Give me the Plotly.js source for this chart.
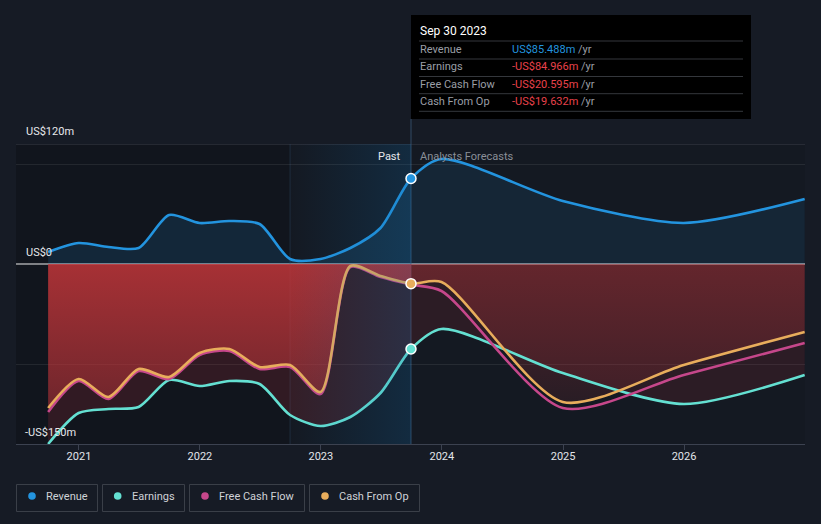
<!DOCTYPE html>
<html><head><meta charset="utf-8">
<script src="https://cdn.plot.ly/plotly-3.0.1.min.js"></script>
<style>html,body{margin:0;padding:0;background:#161b25;}#chart{width:821px;height:524px;}</style>
</head><body><div id="chart"></div>
<script>
// ---------- data ----------
const pastDates = ['2020-09-30','2020-12-31','2021-03-31','2021-06-30','2021-09-30','2021-12-31','2022-03-31','2022-06-30','2022-09-30','2022-12-31','2023-03-31','2023-06-30','2023-09-30'];
const revenuePast  = [12, 21, 17, 16, 49, 41, 43, 40, 5, 5, 16, 36, 85.488];
const earningsPast = [-180, -149, -145, -143, -116, -122, -117, -120, -151, -162, -153, -129, -84.966];
const fcfPast      = [-148, -117, -135, -107, -115, -91, -87, -105, -103, -130, -3, -13, -20.595];
const cfoPast      = [-144, -115, -133, -105, -113, -89, -85, -103, -101, -128, -2, -12, -19.632];

const fcDates = ['2023-09-30','2023-12-31','2024-12-31','2025-12-31','2026-12-31'];
const revenueFc  = [85.488, 105, 63, 41, 65];
const earningsFc = [-84.966, -65, -109, -140, -111];
const fcfFc      = [-20.595, -27, -144, -111, -79];
const cfoFc      = [-19.632, -18, -138, -101, -68];

const yearTicks  = ['2021-01-01','2022-01-01','2023-01-01','2024-01-01','2025-01-01','2026-01-01'];
const yearLabels = ['2021','2022','2023','2024','2025','2026'];
const xRange = ['2020-06-25','2027-01-01'];
const yRange = [-180, 120];
const highlightStart = '2022-09-30';
const highlightEnd = '2023-09-30';

const seriesNames = ['Revenue','Earnings','Free Cash Flow','Cash From Op'];
const seriesColors = ['#2394df','#64e0d2','#c6478b','#e8ad5c'];
const tipDate = 'Sep 30 2023';
const tipValues = ['US$85.488m','-US$84.966m','-US$20.595m','-US$19.632m'];
const axisLabels = ['US$120m','US$0','-US$150m'];

// ---------- helpers ----------
const FONT = 'Roboto, "Open Sans", sans-serif';
const PL = 16, PR = 805, PT = 144, PB = 444;
const px = v => (v - PL) / (PR - PL);
const py = v => (PB - v) / (PB - PT);
const all = (a, b) => a.concat(b.slice(1));
const allDates = all(pastDates, fcDates);

const SM = 0.75;
function fillTrace(x, y, color, grad) {
  const t = {x, y, type:'scatter', mode:'lines', line:{width:0, shape:'spline', smoothing:SM},
    fill:'tozeroy', hoverinfo:'skip', showlegend:false};
  if (grad) t.fillgradient = {type:'vertical', start:yRange[0], stop:0, colorscale:grad};
  else t.fillcolor = color;
  return t;
}
function lineTrace(x, y, color) {
  return {x, y, type:'scatter', mode:'lines', line:{width:2.6, color, shape:'spline', smoothing:SM},
    hoverinfo:'skip', showlegend:false};
}
function markerTrace(x, y, color) {
  return {x:[x], y:[y], type:'scatter', mode:'markers',
    marker:{size:10, color, line:{color:'#ffffff', width:1.5}}, hoverinfo:'skip', showlegend:false};
}

const last = pastDates.length - 1;
const data = [
  fillTrace(pastDates, revenuePast, 'rgba(35,148,223,0.15)'),
  fillTrace(fcDates, revenueFc, 'rgba(35,148,223,0.11)'),
  fillTrace(pastDates, earningsPast, 'rgba(180,50,62,0.2)'),
  fillTrace(fcDates, earningsFc, 'rgba(180,50,62,0.15)'),
  fillTrace(pastDates, cfoPast, null, [[0,'rgba(200,55,58,0.32)'],[1,'rgba(200,55,58,0.78)']]),
  fillTrace(fcDates, cfoFc, null, [[0,'rgba(200,55,58,0.04)'],[1,'rgba(200,55,58,0.36)']]),
  lineTrace(allDates, all(earningsPast, earningsFc), seriesColors[1]),
  lineTrace(allDates, all(fcfPast, fcfFc), seriesColors[2]),
  lineTrace(allDates, all(cfoPast, cfoFc), seriesColors[3]),
  lineTrace(allDates, all(revenuePast, revenueFc), seriesColors[0]),
  // highlighted last-twelve-months band
  {x:[highlightStart, highlightEnd, highlightEnd, highlightStart, highlightStart],
   y:[yRange[1], yRange[1], yRange[0], yRange[0], yRange[1]], type:'scatter', mode:'lines',
   line:{width:0}, fill:'toself', hoverinfo:'skip', showlegend:false,
   fillgradient:{type:'horizontal', colorscale:[[0,'rgba(14,108,172,0.0)'],[1,'rgba(14,108,172,0.22)']]}},
  markerTrace(pastDates[last], earningsPast[last], seriesColors[1]),
  markerTrace(pastDates[last], cfoPast[last], seriesColors[3]),
  markerTrace(pastDates[last], revenuePast[last], seriesColors[0])
];

const shapes = [
  {type:'rect', xref:'x', yref:'paper', x0:xRange[0], x1:highlightStart, y0:0, y1:1,
   fillcolor:'rgba(0,0,0,0.13)', line:{width:0}, layer:'below'},
  {type:'line', xref:'paper', yref:'y', x0:0, x1:1, y0:yRange[1], y1:yRange[1], line:{color:'#3a3f49', width:1}, layer:'below'},
  {type:'line', xref:'paper', yref:'y', x0:0, x1:1, y0:0, y1:0, line:{color:'rgba(255,255,255,0.92)', width:1.2}, layer:'below'},
  {type:'line', xref:'x', yref:'paper', x0:highlightEnd, x1:highlightEnd, y0:0, y1:py(119), line:{color:'rgba(60,95,130,0.7)', width:1}, layer:'below'},
  {type:'line', xref:'x', yref:'paper', x0:highlightStart, x1:highlightStart, y0:0, y1:1, line:{color:'rgba(50,80,110,0.4)', width:1}, layer:'below'},
  // tooltip box
  {type:'rect', xref:'paper', yref:'paper', x0:px(411), x1:px(751), y0:py(119), y1:py(15), fillcolor:'#000000', line:{width:0}, layer:'above'}
];
[41, 59, 76.5, 93.7, 111.3].forEach(yy => shapes.push({type:'line', xref:'paper', yref:'paper',
  x0:px(419), x1:px(743), y0:py(yy), y1:py(yy), line:{color:'#34373c', width:1}, layer:'above'}));

const annotations = [];
function ann(text, x, y, opts) {
  annotations.push(Object.assign({text, xref:'paper', yref:'paper', x:px(x), y:py(y),
    xanchor:'left', yanchor:'middle', showarrow:false, font:{family:FONT, size:11, color:'#e6e8eb'}}, opts || {}));
}
// axis labels
ann(axisLabels[0], 24, 131);
ann(axisLabels[1], 24, 252);
ann(axisLabels[2], 23, 432);
ann('Past', 403, 156, {xanchor:'right', font:{family:FONT, size:11, color:'#e6e8eb'}});
ann('Analysts Forecasts', 418, 156, {font:{family:FONT, size:11, color:'#8a8f98'}});
// tooltip
ann(tipDate, 418, 31, {font:{family:FONT, size:12, color:'#ffffff'}});
const rowY = [49.3, 66.7, 84.3, 101.7];
seriesNames.forEach((n, i) => {
  ann(n, 418, rowY[i], {font:{family:FONT, size:11, color:'#9a9ea6'}});
  const vc = i === 0 ? seriesColors[0] : '#e8424b';
  ann('<span style="color:' + vc + '">' + tipValues[i] + '</span> /yr', 510, rowY[i], {font:{family:FONT, size:11, color:'#9a9ea6'}});
});
// legend
const legBoxes = [[16.5, 97.5], [102.5, 184.5], [189.5, 304.5], [309.5, 419.5]];
const legDots = [32, 117.7, 205, 325];
const legText = [44, 130, 217, 337];
seriesNames.forEach((n, i) => {
  shapes.push({type:'rect', xref:'paper', yref:'paper', x0:px(legBoxes[i][0]), x1:px(legBoxes[i][1]),
    y0:py(511.5), y1:py(484.5), line:{color:'#3a3f48', width:1}, fillcolor:'rgba(0,0,0,0)', layer:'above'});
  shapes.push({type:'circle', xref:'paper', yref:'paper', x0:px(legDots[i]-3.8), x1:px(legDots[i]+3.8),
    y0:py(496+3.8), y1:py(496-3.8), line:{width:0}, fillcolor:seriesColors[i], layer:'above'});
  ann(n, legText[i], 496, {font:{family:FONT, size:11, color:'#cfd2d7'}});
});

const layout = {
  width:821, height:524, margin:{l:PL, r:821-PR, t:PT, b:524-PB, pad:0},
  paper_bgcolor:'#161b25', plot_bgcolor:'#141922', showlegend:false,
  font:{family:FONT},
  xaxis:{type:'date', range:xRange, tickvals:yearTicks, ticktext:yearLabels, ticks:'outside', ticklen:5,
    tickcolor:'#3c4250', showline:true, linecolor:'#3c4250', linewidth:1, showgrid:false, zeroline:false,
    ticklabelstandoff:-3,
    tickfont:{family:FONT, size:11, color:'#e2e5ea'}, fixedrange:true},
  yaxis:{range:yRange, showticklabels:false, tickvals:[-100, 100], showgrid:true,
    gridcolor:'rgba(255,255,255,0.08)', zeroline:false, showline:false, fixedrange:true},
  shapes, annotations
};
Plotly.newPlot('chart', data, layout, {staticPlot:true, displayModeBar:false});
</script></body></html>
